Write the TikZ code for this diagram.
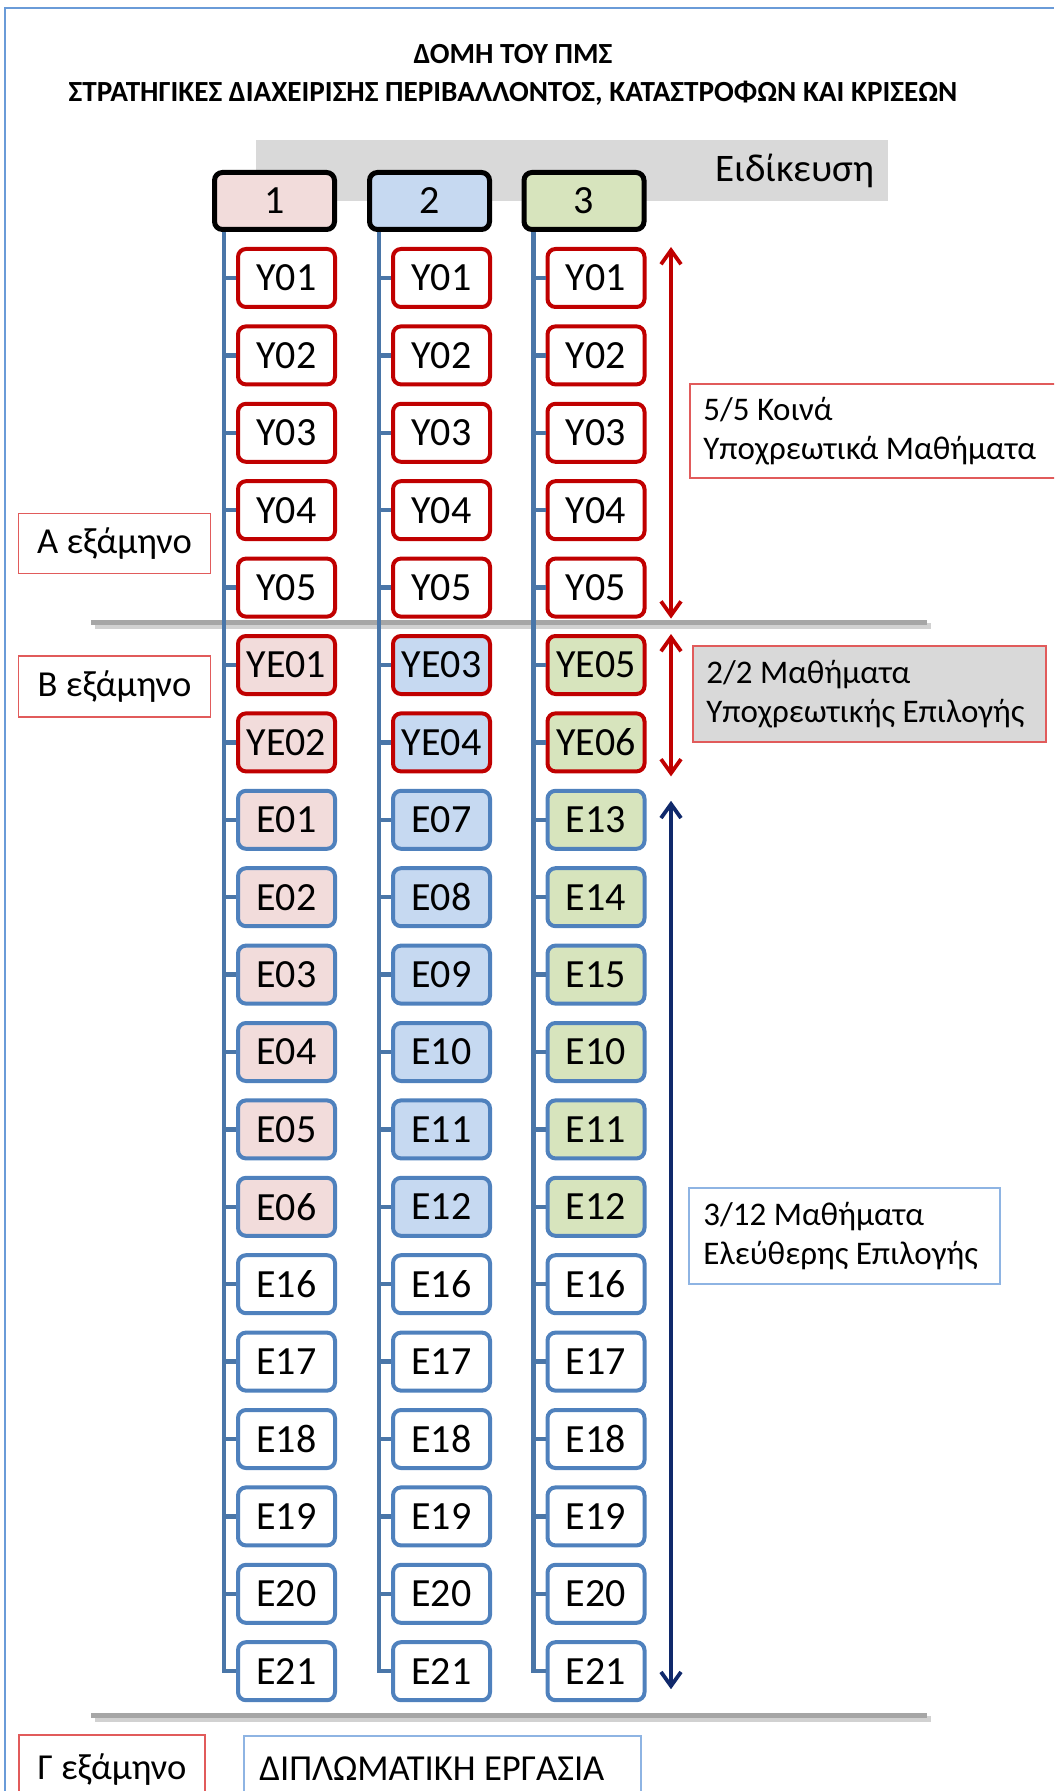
\documentclass[tikz,border=0pt]{standalone}
\usepackage{fontspec}
\setmainfont{Carlito}
\usepackage{tikz}
\usetikzlibrary{positioning,arrows.meta,calc}
\definecolor{CoreRed}{HTML}{C00000}
\definecolor{FreeBlue}{HTML}{4F81BD}
\definecolor{TrunkBlue}{HTML}{4A76A8}
\definecolor{NavyArrow}{HTML}{10296B}
\definecolor{SpecPink}{HTML}{F2DCDB}
\definecolor{SpecBlue}{HTML}{C6D9F1}
\definecolor{SpecGreen}{HTML}{D7E4BD}
\definecolor{BandGray}{HTML}{D9D9D9}
\definecolor{RuleGray}{HTML}{A6A6A6}
\definecolor{LabelRed}{HTML}{E15B5B}
\definecolor{LabelBlue}{HTML}{8EB4E3}
\definecolor{FrameBlue}{HTML}{6A9BD8}

\begin{document}
\begin{tikzpicture}[x=0.5pt, y=-0.5pt,
  every node/.style={font=\fontsize{16.5}{19.5}\selectfont, text=black},
  course/.style={draw, line width=2pt, rounded corners=4pt, fill=white,
    minimum width=48.5pt, minimum height=29pt, inner sep=0pt,
    font=\fontsize{20}{24}\selectfont},
  spechead/.style={draw=black, line width=2.5pt, rounded corners=4pt,
    minimum width=60pt, minimum height=28.5pt, inner sep=0pt,
    font=\fontsize{20}{24}\selectfont},
  trunk/.style={TrunkBlue, line width=2.2pt},
  semester/.style={draw=LabelRed, line width=0.8pt, fill=white,
    minimum width=96pt, minimum height=30pt, inner sep=0pt,
    font=\fontsize{18.3}{22}\selectfont},
  infobox/.style={line width=0.8pt, fill=white, anchor=north west,
    inner sep=0pt, minimum height=48pt},
  infotext/.style={anchor=west, align=left, inner sep=0pt},
  rule/.style={RuleGray, line width=2.5pt},
  ruleshadow/.style={black!18, line width=3pt},
  reqarrow/.style={CoreRed, line width=1.9pt,
    {Straight Barb[length=7pt,width=10pt]}-{Straight Barb[length=7pt,width=10pt]}},
  freearrow/.style={NavyArrow, line width=1.9pt,
    {Straight Barb[length=7pt,width=10pt]}-{Straight Barb[length=7pt,width=10pt]}}]

  \clip (0,0) rectangle (1054,1791);
  \draw[FrameBlue, line width=1pt] (5,1791) -- (5,8) -- (1054,8);

  % title
  \node[font=\fontsize{14.6}{19}\selectfont\bfseries, align=center] (title)
    at (513,75) {ΔΟΜΗ ΤΟΥ ΠΜΣ\\ΣΤΡΑΤΗΓΙΚΕΣ ΔΙΑΧΕΙΡΙΣΗΣ ΠΕΡΙΒΑΛΛΟΝΤΟΣ, ΚΑΤΑΣΤΡΟΦΩΝ ΚΑΙ ΚΡΙΣΕΩΝ};

  % specialisation band
  \node[fill=BandGray, minimum width=316pt, minimum height=30.5pt, inner sep=0pt,
    text width=302pt, align=right, font=\fontsize{19.5}{23}\selectfont] (band)
    at (572,170.5) {Ειδίκευση};

  % semester rules
  \draw[ruleshadow] (95,626) -- (931,626);
  \draw[rule] (91,622) -- (927,622);
  \draw[ruleshadow] (95,1719) -- (931,1719);
  \draw[rule] (91,1715) -- (927,1715);

  % columns: header, compulsory and free rows
  \foreach \c/\cx/\spec in {1/286.5/SpecPink, 2/441.5/SpecBlue, 3/596/SpecGreen}{
    \node[spechead, fill=\spec] (h\c) at (\cx-12,201) {\c};
    \foreach \k in {1,...,5}
      \node[course, draw=CoreRed] (c\c-r\k) at (\cx,{278+(\k-1)*77.4}) {Υ0\k};
    \foreach \lab [count=\k from 14] in {Ε16,Ε17,Ε18,Ε19,Ε20,Ε21}
      \node[course, draw=FreeBlue] (c\c-r\k) at (\cx,{278+(\k-1)*77.4}) {\lab};
  }

  % specialisation rows
  \foreach \k/\bor/\la/\lb/\lc in {
    6/CoreRed/ΥΕ01/ΥΕ03/ΥΕ05, 7/CoreRed/ΥΕ02/ΥΕ04/ΥΕ06,
    8/FreeBlue/Ε01/Ε07/Ε13, 9/FreeBlue/Ε02/Ε08/Ε14, 10/FreeBlue/Ε03/Ε09/Ε15,
    11/FreeBlue/Ε04/Ε10/Ε10, 12/FreeBlue/Ε05/Ε11/Ε11, 13/FreeBlue/Ε06/Ε12/Ε12
  }{
    \foreach \c/\cx/\spec/\lab in {1/286.5/SpecPink/\la, 2/441.5/SpecBlue/\lb, 3/596/SpecGreen/\lc}
      \node[course, draw=\bor, fill=\spec] (c\c-r\k) at (\cx,{278+(\k-1)*77.4}) {\lab};
  }

  % trunks and branches
  \foreach \c in {1,2,3}{
    \coordinate (t\c) at ($(h\c.south west)+(12,0)$);
    \draw[trunk] (t\c) |- (c\c-r19.west);
    \foreach \k in {1,...,18}
      \draw[trunk] (t\c |- c\c-r\k.west) -- (c\c-r\k.west);
  }

  % range arrows
  \draw[reqarrow] ([xshift=12.25pt]c3-r1.north east) -- ([xshift=12.25pt]c3-r5.south east);
  \draw[reqarrow] ([xshift=12.25pt]c3-r6.north east) -- ([xshift=12.25pt,yshift=-1.5pt]c3-r7.south east);
  \draw[freearrow] ([xshift=12.25pt,yshift=-6pt]c3-r8.north east)
    -- ([xshift=12.25pt,yshift=6.5pt]c3-r19.south east);

  % semester labels
  \node[semester] (semA) at (114.5,543.5) {Α εξάμηνο};
  \node[semester, minimum height=30.5pt] (semB) at (114.5,686.5) {Β εξάμηνο};
  \node[semester, minimum width=93pt, minimum height=35pt] (semC) at (112,1770) {Γ εξάμηνο};

  % group descriptions
  \node[infobox, draw=LabelRed, minimum width=200pt, minimum height=47pt] (core) at (689,383) {};
  \node[infotext] (coretext) at ([xshift=7pt]core.west) {5/5 Κοινά\\Υποχρεωτικά Μαθήματα};
  \node[infobox, draw=LabelRed, fill=BandGray, minimum width=176.5pt] (elect) at (692,645) {};
  \node[infotext] (electtext) at ([xshift=7pt]elect.west) {2/2 Μαθήματα\\Υποχρεωτικής Επιλογής};
  \node[infobox, draw=LabelBlue, minimum width=155.5pt] (free) at (688,1187) {};
  \node[infotext] (freetext) at ([xshift=7.5pt]free.west) {3/12 Μαθήματα\\Ελεύθερης Επιλογής};
  \node[infobox, draw=LabelBlue, minimum width=198.5pt, minimum height=35pt] (thesis) at (243,1735) {};
  \node[infotext, font=\fontsize{18.3}{22}\selectfont] (thesistext)
    at ([xshift=8pt,yshift=1pt]thesis.west) {ΔΙΠΛΩΜΑΤΙΚΗ ΕΡΓΑΣΙΑ};
\end{tikzpicture}
\end{document}
